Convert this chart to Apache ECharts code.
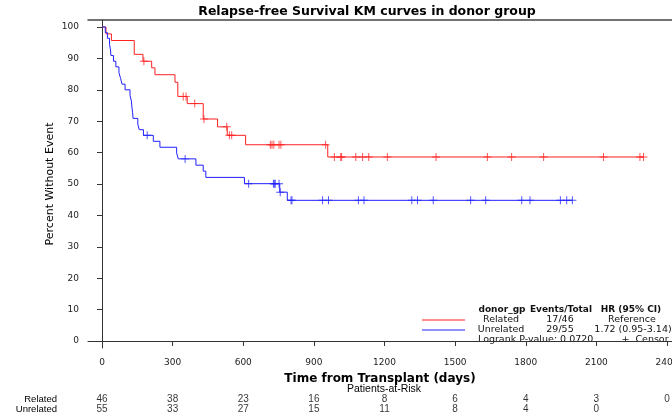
<!DOCTYPE html>
<html>
<head>
<meta charset="utf-8">
<script src="https://cdn.jsdelivr.net/npm/echarts@6/dist/echarts.min.js"></script>
<style>html,body{margin:0;padding:0;background:#fff}#c{width:672px;height:419px}</style>
</head>
<body>
<div id="c"></div>
<script>
// ---- data ----
const tickDays = [0, 300, 600, 900, 1200, 1500, 1800, 2100, 2400];
const yTicks = [0, 10, 20, 30, 40, 50, 60, 70, 80, 90, 100];

const relatedEventDays = [0, 17, 40, 137, 174, 211, 225, 310, 322, 362, 430, 491, 532, 610, 959];
const relatedSurv      = [100, 97.8, 95.7, 91.3, 89.1, 87.0, 84.8, 82.4, 77.9, 75.6, 70.7, 68.2, 65.5, 62.5, 58.6];
const relatedCensorDays = [178, 345, 357, 394, 433, 530, 541, 551, 715, 722, 730, 752, 760, 950, 987, 1014, 1018, 1078, 1107, 1133, 1212, 1419, 1637, 1740, 1876, 2130, 2285, 2300];

const unrelatedEventDays = [0, 14, 23, 32, 36, 38, 49, 59, 72, 79, 85, 98, 119, 125, 127, 130, 132, 152, 158, 176, 218, 246, 317, 324, 399, 430, 441, 605, 755, 787];
const unrelatedSurv      = [100, 98.2, 96.4, 94.5, 92.7, 90.9, 89.1, 87.3, 85.5, 83.6, 81.8, 80.0, 78.2, 76.4, 74.5, 72.7, 70.9, 69.1, 67.3, 65.5, 63.6, 61.7, 59.9, 58.0, 56.0, 54.1, 52.1, 50.1, 47.4, 44.8];
const unrelatedCensorDays = [192, 353, 623, 728, 732, 736, 752, 757, 803, 807, 937, 962, 1089, 1113, 1316, 1340, 1407, 1566, 1630, 1783, 1818, 1947, 1974, 1998];

const riskDays = [0, 300, 600, 900, 1200, 1500, 1800, 2100, 2400];
const relatedAtRisk = [46, 38, 23, 16, 8, 6, 4, 3, 0];
const unrelatedAtRisk = [55, 33, 27, 15, 11, 8, 4, 0];

const groupNames = ['Related', 'Unrelated'];
const eventsTotal = ['17/46', '29/55'];
const hrText = ['Reference', '1.72 (0.95-3.14)'];
const pValueText = 'Logrank P-value: 0.0720';

// ---- helpers ----
const RED = '#ff2020', BLUE = '#2020ff';
const FONT = 'DejaVu Sans';
function stepData(days, surv, censors) {
  const d = days.map((t, i) => [t, surv[i]]);
  const last = Math.max(days[days.length - 1], censors[censors.length - 1]);
  d.push([last, surv[surv.length - 1]]);
  return d;
}
function levelAt(days, surv, t) {
  let v = surv[0];
  for (let i = 0; i < days.length; i++) if (days[i] <= t) v = surv[i];
  return v;
}
function censorData(days, surv, censors) {
  return censors.map(t => [t, levelAt(days, surv, t)]);
}
const plus = 'path://M4.4,0H5.6V4.4H10V5.6H5.6V10H4.4V5.6H0V4.4H4.4Z';

const X0 = 102, X2400 = 667, GL = 88, GW = 584;
const pxPerDay = (X2400 - X0) / 2400;
const xMin = -(X0 - GL) / pxPerDay;
const xMax = xMin + GW / pxPerDay;
const Y100 = 27, Y0 = 341, GT = 20, GB = 348;
const pxPerPct = (Y0 - Y100) / 100;
const yMax = 100 + (Y100 - GT) / pxPerPct;
const yMin = -(GB - Y0) / pxPerPct;

const chart = echarts.init(document.getElementById('c'), null, {renderer: 'canvas'});
const txt = (x, y, s, opt) => ({type: 'text', x, y, style: Object.assign({text: s, fill: '#111', font: '9.5px "DejaVu Sans"', textAlign: 'center', textVerticalAlign: 'middle'}, opt || {})});

const legendGraphics = [
  {type: 'line', shape: {x1: 422, y1: 320, x2: 465, y2: 320}, style: {stroke: RED, lineWidth: 1}},
  {type: 'line', shape: {x1: 422, y1: 330, x2: 465, y2: 330}, style: {stroke: BLUE, lineWidth: 1}},
  txt(502, 310, 'donor_gp', {font: 'bold 9px "DejaVu Sans"'}),
  txt(561, 310, 'Events/Total', {font: 'bold 9px "DejaVu Sans"'}),
  txt(631, 310, 'HR (95% CI)', {font: 'bold 9px "DejaVu Sans"'}),
  txt(501, 320, groupNames[0]), txt(560, 320, eventsTotal[0]), txt(632, 320, hrText[0]),
  txt(501, 330, groupNames[1]), txt(560, 330, eventsTotal[1]), txt(633, 330, hrText[1]),
  txt(478, 340, pValueText, {textAlign: 'left'}),
  txt(645, 340, '+  Censor'),
  txt(367, 12, 'Relapse-free Survival KM curves in donor group', {font: 'bold 12.5px "DejaVu Sans"', fill: '#000'}),
  txt(384, 389, 'Patients-at-Risk', {font: '10.5px "Liberation Sans"', fill: '#000'})
];

const riskScatter = (name, arr) => ({
  type: 'scatter', xAxisIndex: 1, yAxisIndex: 1, symbolSize: 0, silent: true,
  data: arr.map((n, i) => [riskDays[i], name, n]),
  label: {show: true, position: 'inside', formatter: p => String(p.value[2]), fontFamily: 'Liberation Sans', fontSize: 10, color: '#000'}
});

chart.setOption({
  animation: false,
  backgroundColor: '#fff',
  grid: [
    {left: GL, top: GT, width: GW, height: GB - GT, show: false, containLabel: false, outerBoundsMode: 'none'},
    {left: GL, top: 394, width: GW, height: 20, containLabel: false, outerBoundsMode: 'none'}
  ],
  xAxis: [
    {type: 'value', gridIndex: 0, min: xMin, max: xMax,
     name: 'Time from Transplant (days)', nameLocation: 'middle', nameGap: 25, nameMoveOverlap: false,
     nameTextStyle: {fontFamily: FONT, fontWeight: 'bold', fontSize: 12, color: '#000'},
     axisLine: {show: true, lineStyle: {color: '#333', width: 1}},
     axisTick: {show: true, length: 5, customValues: tickDays, lineStyle: {color: '#333'}},
     axisLabel: {customValues: tickDays, margin: 10, formatter: v => String(v), fontFamily: FONT, fontSize: 9, color: '#222'},
     splitLine: {show: false}},
    {type: 'value', gridIndex: 1, min: xMin, max: xMax, show: false},
    {type: 'value', gridIndex: 0, min: xMin, max: xMax, position: 'top',
     axisLine: {show: true, lineStyle: {color: '#444', width: 1.5}}, axisTick: {show: false}, axisLabel: {show: false}, splitLine: {show: false}}
  ],
  yAxis: [
    {type: 'value', gridIndex: 0, min: yMin, max: yMax,
     name: 'Percent Without Event', nameLocation: 'middle', nameGap: 32, nameRotate: 90, nameMoveOverlap: false,
     nameTextStyle: {fontFamily: FONT, fontSize: 11, color: '#000'},
     axisLine: {show: true, lineStyle: {color: '#333', width: 1}},
     axisTick: {show: true, length: 5, customValues: yTicks, lineStyle: {color: '#333'}},
     axisLabel: {customValues: yTicks, margin: 9, formatter: v => String(v), fontFamily: FONT, fontSize: 9, color: '#222'},
     splitLine: {show: false}},
    {type: 'category', gridIndex: 1, data: ['Unrelated', 'Related'],
     axisLine: {show: false}, axisTick: {show: false},
     axisLabel: {interval: 0, margin: 31, fontFamily: 'Liberation Sans', fontSize: 9.5, color: '#000'}}
  ],
  series: [
    {type: 'line', step: 'end', showSymbol: false, silent: true,
     data: stepData(relatedEventDays, relatedSurv, relatedCensorDays),
     lineStyle: {color: RED, width: 1}},
    {type: 'line', step: 'end', showSymbol: false, silent: true,
     data: stepData(unrelatedEventDays, unrelatedSurv, unrelatedCensorDays),
     lineStyle: {color: BLUE, width: 1}},
    {type: 'scatter', symbol: plus, symbolSize: 8, silent: true,
     data: censorData(relatedEventDays, relatedSurv, relatedCensorDays), itemStyle: {color: RED}},
    {type: 'scatter', symbol: plus, symbolSize: 8, silent: true,
     data: censorData(unrelatedEventDays, unrelatedSurv, unrelatedCensorDays), itemStyle: {color: BLUE}},
    riskScatter('Related', relatedAtRisk),
    riskScatter('Unrelated', unrelatedAtRisk)
  ],
  graphic: legendGraphics
});
</script>
</body>
</html>
